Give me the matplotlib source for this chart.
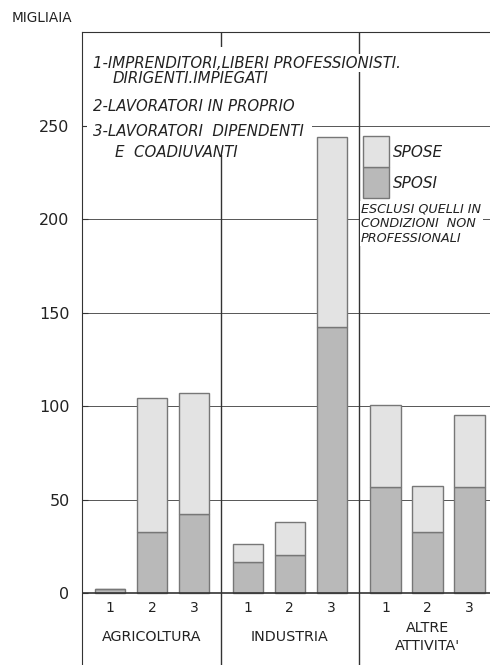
import matplotlib
matplotlib.use('Agg')
import matplotlib.pyplot as plt
from matplotlib.patches import Rectangle

# values in thousands
settori = ["AGRICOLTURA", "INDUSTRIA", "ALTRE\nATTIVITA'"]
posizioni = ["1", "2", "3"]
sposi = [2, 32.5, 42.5, 16.7, 20.3, 142.3, 56.8, 32.8, 56.8]
spose = [0, 71.8, 64.5, 9.5, 17.5, 101.4, 43.6, 24.5, 38.2]
y_ticks = [0, 50, 100, 150, 200, 250]

legenda = [
    ("1-IMPRENDITORI,LIBERI PROFESSIONISTI.", -0.40, 283.4),
    ("DIRIGENTI.IMPIEGATI", 0.07, 275.2),
    ("2-LAVORATORI IN PROPRIO", -0.40, 260.1),
    ("3-LAVORATORI  DIPENDENTI", -0.40, 246.8),
    ("E  COADIUVANTI", 0.12, 235.6),
]
nota = "ESCLUSI QUELLI IN\nCONDIZIONI  NON\nPROFESSIONALI"

c_sposi = '#b9b9b9'
c_spose = '#e3e3e3'
c_edge = '#777777'
ink = '#222222'

fig = plt.figure(figsize=(4.9, 6.65), dpi=100)
ax = fig.add_axes([82 / 490, 0, 1 - 82 / 490, 1 - 32 / 665])

group_step = 3.28
xs = [g * group_step + i for g in range(len(settori)) for i in range(len(posizioni))]

ax.bar(xs, sposi, width=0.72, color=c_sposi, edgecolor=c_edge, linewidth=1.0, zorder=3)
ax.bar(xs, spose, width=0.72, bottom=sposi, color=c_spose, edgecolor=c_edge,
       linewidth=1.0, zorder=3)

ax.set_xlim(-0.667, 9.05)
ax.set_ylim(-38.5, 300)

# grid + zero line + group dividers
for v in y_ticks[1:]:
    ax.axhline(v, color='#555555', lw=0.7, zorder=1)
ax.axhline(0, color='#333333', lw=1.2, zorder=4)
for g in range(1, len(settori)):
    ax.axvline(g * group_step - 0.64, color='#333333', lw=1.0, zorder=2)

# white area behind the legend text (hides grid and divider there)
ax.add_patch(Rectangle((-0.55, 234), 5.35, 58, fc='white', ec='none', zorder=2.5))

ax.spines['right'].set_visible(False)
ax.spines['bottom'].set_visible(False)
ax.spines['left'].set_color('#333333')
ax.spines['top'].set_color('#333333')
ax.set_xticks([])
ax.set_yticks(y_ticks)
ax.set_yticklabels([str(v) for v in y_ticks], fontsize=11.5, color=ink)
ax.tick_params(axis='y', direction='in', length=4, pad=9, color='#333333')

# position numbers and sector names below the zero line
for x, i in zip(xs, posizioni * len(settori)):
    ax.text(x, -8, i, ha='center', va='center', fontsize=10, color=ink)
for g, s in enumerate(settori):
    ax.text(g * group_step + 1, -23.5, s, ha='center', va='center', fontsize=10.3,
            color=ink, linespacing=1.4)

# legend text block
for k, (t, x, y) in enumerate(legenda):
    bb = dict(fc='white', ec='none', pad=1) if k == 0 else None
    ax.text(x, y, t, ha='left', va='center', fontsize=10.8, style='italic',
            color=ink, zorder=6, bbox=bb)

# colour key
ax.add_patch(Rectangle((6.02, 211), 0.62, 16.6, fc=c_sposi, ec=c_edge, lw=1.0, zorder=5))
ax.add_patch(Rectangle((6.02, 227.6), 0.62, 16.6, fc=c_spose, ec=c_edge, lw=1.0, zorder=5))
ax.text(6.74, 235.6, "SPOSE", ha='left', va='center', fontsize=11, style='italic',
        color=ink)
ax.text(6.74, 219, "SPOSI", ha='left', va='center', fontsize=11, style='italic',
        color=ink)
ax.text(5.98, 197.5, nota, ha='left', va='center', fontsize=9.2, style='italic',
        color=ink, linespacing=1.15, zorder=6,
        bbox=dict(fc='white', ec='none', pad=1))

fig.text(12 / 490, 1 - 18 / 665, "MIGLIAIA", ha='left', va='center', fontsize=9.8,
         color=ink)

fig.savefig('out.png', dpi=100)
